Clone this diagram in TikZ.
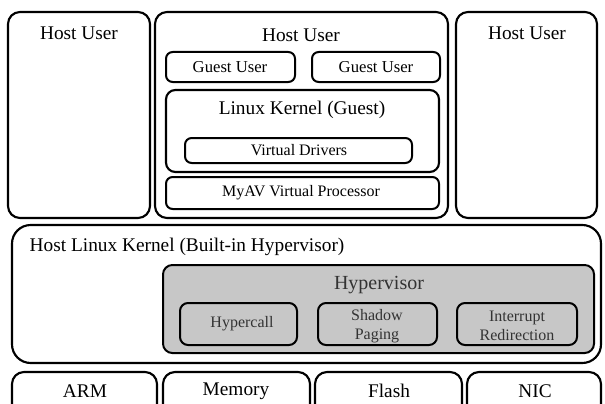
\documentclass[tikz,border=0pt]{standalone}
\usepackage{fontspec}
\setmainfont{Liberation Serif}
\begin{document}
\begin{tikzpicture}[x=0.75pt,y=-0.75pt,
  box/.style={draw=black,line width=1.6pt,rounded corners=9pt},
  sbox/.style={draw=black,line width=1.5pt,rounded corners=5pt},
  hv/.style={draw=black,line width=1.5pt,rounded corners=7pt,fill=black!22},
  big/.style={font=\fontsize{14.5}{16}\selectfont},
  med/.style={font=\fontsize{12.5}{14}\selectfont},
  sml/.style={font=\fontsize{12}{13}\selectfont},
  hvt/.style={font=\fontsize{12}{14.5}\selectfont,align=center,text=black!80,inner sep=1pt}]
\useasboundingbox (0,0) rectangle (605,403);
\clip (0,0) rectangle (605,403);
% top host user boxes
\draw[box] (8,12) rectangle (150,218);
\draw[box] (155,12) rectangle (448,218);
\draw[box] (456,12) rectangle (597,218);
\node[big] (hu1) at (79,33) {Host User};
\node[big] (hu2) at (301,35) {Host User};
\node[big] (hu3) at (527,33) {Host User};
% guest users
\draw[sbox] (166,52) rectangle (295,82);
\node[med] (gu1) at (230,67) {Guest User};
\draw[sbox] (312,52) rectangle (440,82);
\node[med] (gu2) at (376,67) {Guest User};
% linux kernel guest
\draw[box,rounded corners=7pt] (166,90) rectangle (439,172);
\node[big] (lkg) at (302,110) {Linux Kernel (Guest)};
\draw[sbox] (185,138) rectangle (412,163);
\node[sml] (vd) at (299,150) {Virtual Drivers};
\draw[sbox] (166,177) rectangle (439,209);
\node[sml] (myav) at (301,193) {MyAV Virtual Processor};
% host linux kernel
\draw[box,rounded corners=14pt] (12,225) rectangle (601,363);
\node[big,anchor=west] (hlk) at (25,247) {Host Linux Kernel (Built-in Hypervisor)};
\draw[hv] (163,265) rectangle (594,353);
\node[font=\fontsize{15}{15}\selectfont,text=black!80] (hyp) at (379,285) {Hypervisor};
\draw[hv,rounded corners=6pt] (180,303) rectangle (297,345);
\node[hvt] (hc) at (242,324) {Hypercall};
\draw[hv,rounded corners=6pt] (318,303) rectangle (437,345);
\node[hvt] (sp) at (377,326) {Shadow\\Paging};
\draw[hv,rounded corners=6pt] (457,303) rectangle (577,345);
\node[hvt] (ir) at (517,326) {Interrupt\\Redirection};
% hardware
\draw[box] (12,372) rectangle (157,420);
\node[big] (arm) at (85,391) {ARM};
\draw[box] (163,372) rectangle (310,420);
\node[big] (mem) at (236,391) {Memory};
\draw[box] (315,372) rectangle (462,420);
\node[big] (fl) at (389,391) {Flash};
\draw[box] (467,372) rectangle (601,420);
\node[big] (nic) at (535,391) {NIC};
\end{tikzpicture}
\end{document}
